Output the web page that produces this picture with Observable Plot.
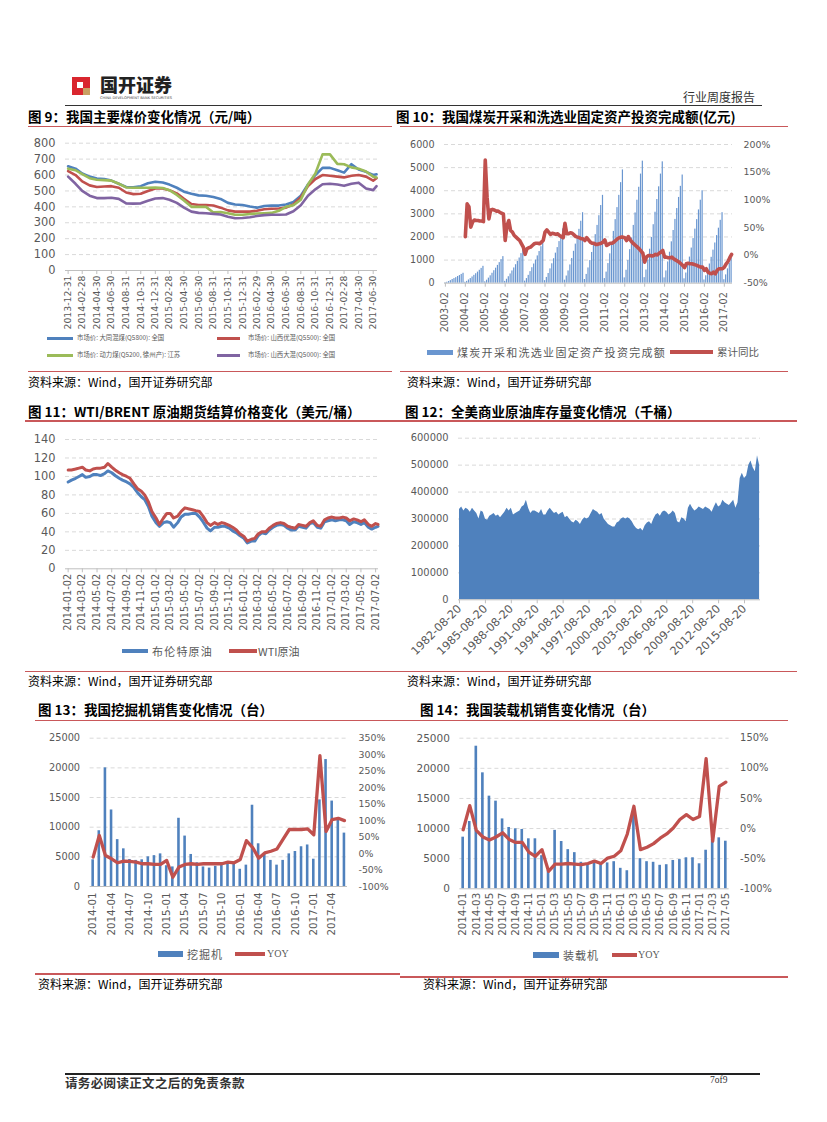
<!DOCTYPE html>
<html><head><meta charset="utf-8">
<script src="https://cdn.jsdelivr.net/npm/d3@7"></script>
<script src="https://cdn.jsdelivr.net/npm/@observablehq/plot@0.6"></script>
<style>
html,body{margin:0;padding:0;background:#fff;}
body{width:827px;height:1122px;position:relative;overflow:hidden;font-family:"Noto Sans CJK SC",sans-serif;}
</style></head><body>
<script>
// ---------------- DATA ----------------
// Fig 9: coal prices (yuan/ton), month-end points 2013-12 .. 2017-06 + mid-July 2017
const p5800 = [655,640,610,590,578,575,565,545,525,523,530,548,558,553,540,520,495,482,472,470,462,450,425,415,412,402,395,405,408,408,415,430,470,540,600,645,645,630,615,668,635,620,600,605];
const p5500 = [625,600,560,535,525,528,530,520,490,480,482,500,515,515,505,485,450,418,412,412,408,395,378,370,370,370,375,385,388,390,395,415,460,530,575,600,595,590,585,595,600,590,565,580];
const p5200 = [640,630,605,580,570,568,565,545,522,520,520,520,522,518,505,475,440,400,400,400,365,368,360,350,350,355,358,360,362,375,400,410,445,540,610,730,730,670,668,648,640,622,590,585];
const p5000 = [590,545,500,470,455,455,457,450,422,420,422,438,452,455,445,425,395,370,362,360,356,352,338,328,330,335,342,348,350,350,352,372,410,470,510,542,545,540,532,545,552,515,505,530];
const names9 = ["市场价: 大同混煤(Q5800): 全国","市场价: 山西优混(Q5500): 全国","市场价: 动力煤(Q5200, 徐州产): 江苏","市场价: 山西大混(Q5000): 全国"];

// Fig 10: cumulative fixed-asset investment (100m yuan), Feb..Dec each year
const inv10 = [
 [20,40,70,110,160,200,240,290,330,380,430],
 [40,80,140,200,270,340,410,480,560,640,730],
 [60,130,220,320,430,540,650,770,890,1020,1150],
 [80,170,280,400,530,660,800,940,1090,1280,1480],
 [90,200,340,500,670,830,1000,1180,1370,1580,1800],
 [110,250,420,620,840,1060,1300,1540,1800,2060,2350],
 [130,310,530,790,1070,1380,1690,2000,2330,2680,3050],
 [160,380,660,980,1330,1720,2100,2500,2920,3360,3800],
 [200,480,850,1270,1730,2240,2750,3270,3800,4350,4900],
 [230,560,980,1450,1960,2500,3040,3590,4150,4720,5280],
 [240,570,1000,1470,1980,2530,3070,3620,4170,4720,5250],
 [230,530,920,1340,1790,2280,2760,3230,3710,4190,4680],
 [190,440,770,1130,1520,1930,2340,2750,3170,3590,4000],
 [140,320,560,830,1120,1430,1740,2060,2380,2720,3050],
 [150,360,620,860,1080]
];
// cumulative YoY (%), 2004-02 onward
const yoy10 = [
 [34,93,88,51,60,64,63,63,62,62,61],
 [172,105,66,82,83,82,80,80,78,76,75],
 [27,54,63,45,42,36,33,30,27,21,15],
 [2,12,14,15,18,21,22,22,21,24,27],
 [42,46,42,38,40,39,38,39,36,34,32],
 [58,39,39,41,40,37,34,33,32,30,30],
 [27,32,28,24,22,22,20,20,21,22,24],
 [28,18,20,22,22,24,27,30,32,33,33],
 [32,27,34,28,24,21,18,15,12,8,4],
 [-12,-3,0,0,-1,0,2,1,4,6,9],
 [-3,-3,-4,-4,-3,-6,-8,-10,-12,-15,-18],
 [-22,-15,-14,-15,-15,-16,-17,-18,-20,-21,-21],
 [-27,-24,-30,-32,-33,-30,-33,-27,-24,-24,-24],
 [-21,-15,-11,-4,2]
];
const years10 = d3.range(2003, 2018);

// Fig 11: oil futures (USD/bbl), two points per month 2014-01 .. 2017-07
const wti11 = [107,107,108,109,110,107,106,108,109,109,110,114,110,107,104,102,100,98,92,87,84,80,72,62,
 55,48,55,60,60,55,57,62,66,65,64,63,62,57,50,47,50,48,50,49,47,45,42,38,
 35,30,32,33,38,40,40,44,47,49,50,49,46,45,44,48,47,46,50,52,47,46,53,55,
 56,55,55,56,55,52,54,53,51,53,48,46,49,48];
const brent11 = [94,96,98,100,102,99,100,102,102,101,103,106,104,101,98,96,94,92,88,83,78,75,67,57,
 50,46,50,51,50,45,50,56,59,59,60,60,56,51,44,41,45,45,46,46,44,41,39,36,
 33,28,30,30,36,39,38,42,45,47,48,47,44,42,42,46,45,44,49,50,45,44,51,52,
 53,52,53,53,52,48,51,50,48,50,45,43,45,46];

// Fig 12: US commercial crude stocks (thousand bbl), quarterly from 1982-08-20
const stock12 = [
 335000,345000,330000,340000, 335000,325000,340000,330000, 320000,300000,330000,325000, 300000,295000,310000,315000,
 320000,310000,315000,305000, 315000,325000,340000,330000, 340000,315000,320000,325000, 330000,345000,350000,370000,
 340000,320000,330000,330000, 325000,320000,335000,315000, 315000,330000,340000,330000, 320000,325000,315000,320000,
 325000,305000,310000,300000, 290000,285000,295000,290000, 280000,295000,305000,300000, 305000,320000,335000,330000,
 325000,315000,320000,300000, 290000,280000,275000,270000, 270000,285000,290000,300000, 305000,300000,305000,300000,
 290000,275000,265000,260000, 265000,255000,275000,285000, 290000,280000,300000,315000, 320000,310000,325000,330000,
 325000,315000,320000,330000, 320000,290000,285000,305000, 300000,290000,340000,355000, 340000,330000,335000,345000,
 340000,335000,345000,340000, 335000,325000,345000,360000, 345000,350000,370000,360000, 355000,350000,360000,370000,
 340000,360000,450000,470000, 450000,460000,500000,515000, 490000,475000,535000,500000
];
const ticks12 = d3.range(0, 12).map(k => new Date(Date.UTC(1982 + 3 * k, 7, 20)));

// Fig 13: excavator sales (units) and YoY (%), 2014-01 .. 2017-06
const exc13 = [4500,9400,20000,12900,7900,6350,4550,4400,4500,5000,5200,5500,
 3500,3300,11500,8500,5400,4000,3300,3100,3400,3600,4100,4000,
 2900,3600,13700,7200,5500,4400,3600,4400,5500,5900,6700,7000,
 4600,14600,21400,14400,11500,9000];
const yoy13 = [-11,55,-6,-16,-28,-23,-24,-26,-31,-31,-33,-33,
 -21,-72,-41,-33,-31,-33,-31,-31,-31,-31,-26,-28,
 -18,39,19,-14,2,7,14,44,73,73,73,75,
 57,297,67,103,107,100];

// Fig 14: loader sales (units) and YoY (%), 2014-01 .. 2017-05
const load14 = [8570,11170,23670,19250,15380,14550,11600,10180,9960,9850,8300,8300,
 5500,3000,9700,7850,6500,6000,4400,4100,4700,4100,4300,4500,
 3400,3000,12200,5000,4500,4400,3900,4000,4700,4850,5150,5150,
 4150,6400,8200,8460,7900];
const yoy14 = [-2,38,-3,-14,-19,-14,-7,-18,-23,-23,-39,-46,
 -35,-71,-59,-59,-58,-59,-60,-58,-54,-58,-49,-46,
 -37,-9,37,-35,-31,-25,-16,-9,1,15,23,15,
 20,116,-21,70,77];

// ---------------- HELPERS ----------------
const C = {blue:"#4F81BD", red:"#C0504D", green:"#9BBB59", purple:"#8064A2", grid:"#D9D9D9", axis:"#BFBFBF", text:"#595959"};
const fmtDay = d3.utcFormat("%Y-%m-%d");
const fmtMon = d3.utcFormat("%Y-%m");
function box(x, y, w, h, color) {
  const d = document.createElement("div");
  d.style.cssText = `position:absolute;left:${x}px;top:${y}px;width:${w}px;height:${h}px;background:${color}`;
  document.body.appendChild(d);
}
function txt(x, yc, s, size, o = {}) {
  const d = document.createElement("div");
  d.textContent = s;
  d.style.cssText = `position:absolute;left:${x}px;top:${yc - size / 2}px;font-size:${size}px;line-height:${size}px;white-space:nowrap;color:${o.color || "#000"};font-weight:${o.weight || 400};letter-spacing:${o.ls || 0}px;font-family:${o.family || '"Noto Sans CJK SC", sans-serif'};${o.extra || ""}`;
  document.body.appendChild(d);
}
function place(svg, left, top) {
  const d = document.createElement("div");
  d.style.cssText = `position:absolute;left:${left}px;top:${top}px;`;
  d.appendChild(svg);
  document.body.appendChild(d);
}
const st = (fs) => ({fontFamily: '"DejaVu Sans", sans-serif', fontSize: fs + "px", color: C.text, background: "transparent", overflow: "visible", maxWidth: "none"});
const grid = (vals) => Plot.ruleY(vals, {stroke: C.grid, strokeDasharray: "4,3", strokeWidth: 1});
const base0 = () => Plot.ruleY([0], {stroke: C.axis, strokeWidth: 1});
const num = d => String(d);

// ---------------- HEADER / FOOTER ----------------
box(72, 77, 18, 18, "#D9262E");
box(77, 82, 6, 6, "#ffffff");
box(83, 88, 7, 7, "#C9A063");
txt(100, 84, "国开证券", 18, {weight: 900, color: "#222"});
(() => {
  const ns = "http://www.w3.org/2000/svg";
  const s = document.createElementNS(ns, "svg");
  s.setAttribute("width", "74"); s.setAttribute("height", "4");
  s.style.cssText = "position:absolute;left:100px;top:96px;overflow:visible";
  const t = document.createElementNS(ns, "text");
  t.setAttribute("x", "0"); t.setAttribute("y", "3.2");
  t.setAttribute("font-size", "3.6"); t.setAttribute("fill", "#444");
  t.setAttribute("font-family", "DejaVu Sans, sans-serif");
  t.setAttribute("textLength", "72");
  t.textContent = "CHINA DEVELOPMENT BANK SECURITIES";
  s.appendChild(t); document.body.appendChild(s);
})();
txt(683, 97, "行业周度报告", 12, {color: "#333"});
box(65, 104.5, 697, 1.5, "#333");
box(65, 1073, 695, 1.5, "#222");
txt(65, 1083, "请务必阅读正文之后的免责条款", 12.5, {weight: 700, ls: 0.35, color: "#333"});
txt(710, 1081, "7of9", 9.5, {family: '"Liberation Serif", serif', color: "#333"});

// ---------------- TITLES / RULES / SOURCES ----------------
const RED = "#C9585A";
const SRC = "资料来源：Wind，国开证券研究部";
txt(28, 116.7, "图 9：我国主要煤价变化情况（元/吨）", 13.5, {weight: 700});
txt(396, 116.7, "图 10：我国煤炭开采和洗选业固定资产投资完成额(亿元)", 13.5, {weight: 700});
box(28, 125.5, 364, 1.3, RED); box(400, 125.5, 388, 1.3, RED);
box(28, 370.5, 364, 1.3, RED); box(400, 370.5, 388, 1.3, RED);
txt(28, 382, SRC, 12); txt(407, 382, SRC, 12);

txt(28, 411.7, "图 11：WTI/BRENT 原油期货结算价格变化（美元/桶）", 13.5, {weight: 700});
txt(405, 411.7, "图 12：全美商业原油库存量变化情况（千桶）", 13.5, {weight: 700});
box(25, 420, 375, 1.5, RED); box(400, 420, 397, 1.5, RED);
box(25, 670.5, 375, 1.5, RED); box(400, 670.5, 397, 1.5, RED);
txt(28, 680.5, SRC, 12); txt(407, 681, SRC, 12);

txt(38, 710, "图 13：我国挖掘机销售变化情况（台）", 13.5, {weight: 700});
txt(420, 710, "图 14：我国装载机销售变化情况（台）", 13.5, {weight: 700});
box(35, 719.5, 365, 1.5, RED); box(400, 719.5, 388, 1.5, RED);
box(35, 973, 365, 1.5, RED); box(400, 976, 388, 1.5, RED);
txt(38, 984, SRC, 12); txt(423, 984, SRC, 12);

// ---------------- FIG 9 ----------------
const dates9 = d3.utcMonth.range(new Date(Date.UTC(2014, 0, 1)), new Date(Date.UTC(2017, 7, 1))).map(d => d3.utcDay.offset(d, -1));
dates9.push(new Date(Date.UTC(2017, 6, 14)));
const rows9 = dates9.map((d, i) => ({d, a: p5800[i], b: p5500[i], c: p5200[i], e: p5000[i]}));
const ticks9 = dates9.filter((d, i) => i % 2 === 0 && i <= 42);
place(Plot.plot({
  width: 365, height: 200, marginLeft: 45, marginRight: 8, marginTop: 7.7, marginBottom: 65,
  style: st(11.4),
  x: {type: "utc", domain: [new Date(Date.UTC(2013, 11, 20)), new Date(Date.UTC(2017, 6, 18))]},
  y: {domain: [0, 800]},
  marks: [
    grid(d3.range(100, 801, 100)), base0(),
    Plot.line(rows9, {x: "d", y: "a", stroke: C.blue, strokeWidth: 2.6, strokeLinejoin: "round"}),
    Plot.line(rows9, {x: "d", y: "b", stroke: C.red, strokeWidth: 2.6, strokeLinejoin: "round"}),
    Plot.line(rows9, {x: "d", y: "c", stroke: C.green, strokeWidth: 2.6, strokeLinejoin: "round"}),
    Plot.line(rows9, {x: "d", y: "e", stroke: C.purple, strokeWidth: 2.6, strokeLinejoin: "round"}),
    Plot.axisY({ticks: d3.range(0, 801, 100), tickSize: 0, tickPadding: 10, label: null, tickFormat: num, fontSize: 11.4}),
    Plot.axisX({ticks: ticks9, tickFormat: fmtDay, tickRotate: -90, tickSize: 4, tickPadding: 1, label: null, stroke: C.axis, fontSize: 9.3})
  ]
}), 20, 135);
const lc9 = [C.blue, C.red, C.green, C.purple];
box(47, 337, 26, 2.6, lc9[0]); txt(77, 338, names9[0], 6.4, {color: C.text});
box(217, 337, 23, 2.6, lc9[1]); txt(248, 338, names9[1], 6.4, {color: C.text});
box(47, 354, 26, 2.6, lc9[2]); txt(77, 355, names9[2], 6.4, {color: C.text});
box(217, 354, 23, 2.6, lc9[3]); txt(248, 355, names9[3], 6.4, {color: C.text});

// ---------------- FIG 10 ----------------
const labels10 = [];
years10.forEach(y => { const last = y === 2017 ? 6 : 12; for (let m = 2; m <= last; m++) labels10.push(y + "-" + String(m).padStart(2, "0")); });
const invFlat = inv10.flat();
const yoyFlat = new Array(11).fill(null).concat(yoy10.flat());
const rows10 = labels10.map((m, i) => ({i, m, v: invFlat[i], p: yoyFlat[i]}));
const toL10 = p => (p + 50) / 250 * 6000, fromL10 = v => v / 6000 * 250 - 50;
const feb10 = rows10.filter(r => r.m.endsWith("-02")).map(r => r.i);
place(Plot.plot({
  width: 390, height: 210, marginLeft: 44, marginRight: 58, marginTop: 9, marginBottom: 62.3,
  style: st(9.6),
  x: {domain: [-0.5, labels10.length - 0.5]},
  y: {domain: [0, 6000]},
  marks: [
    grid(d3.range(1000, 6001, 1000)),
    Plot.rect(rows10, {x1: d => d.i - 0.33, x2: d => d.i + 0.33, y1: 0, y2: "v", fill: "#6A96D0"}),
    base0(),
    Plot.line(rows10.filter(d => d.p != null), {x: "i", y: d => toL10(d.p), stroke: C.red, strokeWidth: 3.6, strokeLinejoin: "round"}),
    Plot.axisY({ticks: d3.range(0, 6001, 1000), tickSize: 0, tickPadding: 10, tickFormat: num, label: null, fontSize: 9.6}),
    Plot.axisY({anchor: "right", ticks: [-50, 0, 50, 100, 150, 200].map(toL10), tickFormat: d => Math.round(fromL10(d)) + "%", tickSize: 0, tickPadding: 11, label: null, fontSize: 9.4}),
    Plot.axisX({ticks: feb10, tickFormat: i => labels10[i], tickRotate: -90, tickSize: 4, tickPadding: 5, label: null, stroke: C.axis, fontSize: 9.6})
  ]
}), 400, 135);
box(427, 349.5, 26, 5, "#6A96D0"); txt(457, 352, "煤炭开采和洗选业固定资产投资完成额", 11, {ls: 1.3, color: C.text});
box(670, 350, 43, 4, C.red); txt(717, 352, "累计同比", 10.5, {color: C.text});

// ---------------- FIG 11 ----------------
const dates11 = [];
d3.utcMonth.range(new Date(Date.UTC(2014, 0, 1)), new Date(Date.UTC(2017, 7, 1))).forEach((m, k, arr) => {
  dates11.push(d3.utcDay.offset(m, 1));
  dates11.push(d3.utcDay.offset(m, k === arr.length - 1 ? 11 : 15));
});
const rows11 = dates11.map((d, i) => ({d, b: brent11[i], w: wti11[i]}));
const ticks11 = d3.utcMonth.every(2).range(new Date(Date.UTC(2014, 0, 1)), new Date(Date.UTC(2017, 7, 1))).map(d => d3.utcDay.offset(d, 1));
place(Plot.plot({
  width: 370, height: 200, marginLeft: 45, marginRight: 12, marginTop: 9, marginBottom: 61.7,
  style: st(11.4),
  x: {type: "utc", domain: [new Date(Date.UTC(2013, 11, 22)), new Date(Date.UTC(2017, 6, 14))]},
  y: {domain: [0, 140]},
  marks: [
    grid(d3.range(20, 141, 20)), base0(),
    Plot.line(rows11, {x: "d", y: "b", stroke: C.blue, strokeWidth: 3, strokeLinejoin: "round"}),
    Plot.line(rows11, {x: "d", y: "w", stroke: C.red, strokeWidth: 3, strokeLinejoin: "round"}),
    Plot.axisY({ticks: d3.range(0, 141, 20), tickSize: 0, tickPadding: 10, tickFormat: num, label: null, fontSize: 11.4}),
    Plot.axisX({ticks: ticks11, tickFormat: fmtDay, tickRotate: -90, tickSize: 4, tickPadding: 1, label: null, stroke: C.axis, fontSize: 9.8})
  ]
}), 20, 430);
box(122, 649.3, 26, 3.5, C.blue); txt(152, 651, "布伦特原油", 11, {ls: 1.2, color: C.text});
box(229, 649.3, 28, 3.5, C.red); txt(258, 651, "WTI原油", 11, {color: C.text});

// ---------------- FIG 12 ----------------
const start12 = new Date(Date.UTC(1982, 7, 20));
const rows12 = stock12.map((v, i) => ({d: d3.utcMonth.offset(start12, 3 * i), v}));
place(Plot.plot({
  width: 395, height: 240, marginLeft: 58, marginRight: 35, marginTop: 7.7, marginBottom: 70.7,
  style: st(9.9),
  x: {type: "utc", domain: [new Date(Date.UTC(1982, 6, 9)), new Date(Date.UTC(2017, 5, 27))]},
  y: {domain: [0, 600000]},
  marks: [
    grid(d3.range(100000, 600001, 100000)),
    Plot.areaY(rows12, {x: "d", y: "v", fill: C.blue}),
    base0(),
    Plot.axisY({ticks: d3.range(0, 600001, 100000), tickSize: 0, tickPadding: 10, tickFormat: num, label: null, fontSize: 9.9}),
    Plot.axisX({ticks: ticks12, tickFormat: fmtDay, tickRotate: -45, tickSize: 4, tickPadding: 3, label: null, stroke: C.axis, fontSize: 11.3})
  ]
}), 400, 430);

// ---------------- FIG 13 ----------------
const months13 = d3.utcMonth.range(new Date(Date.UTC(2014, 0, 1)), new Date(Date.UTC(2017, 6, 1))).map(fmtMon);
const rows13 = months13.map((m, i) => ({i, m, v: exc13[i], p: yoy13[i]}));
const toL13 = p => (p + 100) / 450 * 25000, fromL13 = v => v / 25000 * 450 - 100;
place(Plot.plot({
  width: 380, height: 220, marginLeft: 69.6, marginRight: 53, marginTop: 9.7, marginBottom: 62,
  style: st(9.8),
  x: {domain: [-0.5, months13.length - 0.5]},
  y: {domain: [0, 25000]},
  marks: [
    grid(d3.range(5000, 25001, 5000)),
    Plot.rect(rows13, {x1: d => d.i - 0.21, x2: d => d.i + 0.21, y1: 0, y2: "v", fill: C.blue}),
    base0(),
    Plot.line(rows13, {x: "i", y: d => toL13(d.p), stroke: C.red, strokeWidth: 3.3, strokeLinejoin: "round"}),
    Plot.axisY({ticks: d3.range(0, 25001, 5000), tickSize: 0, tickPadding: 10, tickFormat: num, label: null, fontSize: 9.8}),
    Plot.axisY({anchor: "right", ticks: d3.range(-100, 351, 50).map(toL13), tickFormat: d => Math.round(fromL13(d)) + "%", tickSize: 0, tickPadding: 11, label: null, fontSize: 9.4}),
    Plot.axisX({ticks: d3.range(0, months13.length, 3), tickFormat: i => months13[i], tickRotate: -90, tickSize: 0, tickPadding: 6, label: null, fontSize: 10.3})
  ]
}), 20, 728);
box(158, 951, 25, 6, C.blue); txt(187, 954, "挖掘机", 11, {ls: 1, color: C.text});
box(235, 952.3, 30, 3.5, C.red); txt(267, 954, "YOY", 10, {family: '"Liberation Serif", serif', color: C.text});

// ---------------- FIG 14 ----------------
const months14 = d3.utcMonth.range(new Date(Date.UTC(2014, 0, 1)), new Date(Date.UTC(2017, 5, 1))).map(fmtMon);
const rows14 = months14.map((m, i) => ({i, m, v: load14[i], p: yoy14[i]}));
const toL14 = p => (p + 100) / 250 * 25000, fromL14 = v => v / 25000 * 250 - 100;
place(Plot.plot({
  width: 395, height: 220, marginLeft: 59.4, marginRight: 66.4, marginTop: 9.7, marginBottom: 59.7,
  style: st(10.5),
  x: {domain: [-0.5, months14.length - 0.5]},
  y: {domain: [0, 25000]},
  marks: [
    grid(d3.range(5000, 25001, 5000)),
    Plot.rect(rows14, {x1: d => d.i - 0.2, x2: d => d.i + 0.2, y1: 0, y2: "v", fill: C.blue}),
    base0(),
    Plot.line(rows14, {x: "i", y: d => toL14(d.p), stroke: C.red, strokeWidth: 3.3, strokeLinejoin: "round"}),
    Plot.axisY({ticks: d3.range(0, 25001, 5000), tickSize: 0, tickPadding: 10, tickFormat: num, label: null, fontSize: 10.5}),
    Plot.axisY({anchor: "right", ticks: d3.range(-100, 151, 50).map(toL14), tickFormat: d => Math.round(fromL14(d)) + "%", tickSize: 0, tickPadding: 11, label: null, fontSize: 9.9}),
    Plot.axisX({ticks: d3.range(0, months14.length, 2), tickFormat: i => months14[i], tickRotate: -90, tickSize: 0, tickPadding: 4, label: null, fontSize: 10.3})
  ]
}), 400, 728);
box(533, 952, 26, 6, C.blue); txt(563, 955, "装载机", 11, {ls: 1, color: C.text});
box(612, 953.3, 25, 3.5, C.red); txt(638, 955, "YOY", 10, {family: '"Liberation Serif", serif', color: C.text});
</script>
</body></html>
